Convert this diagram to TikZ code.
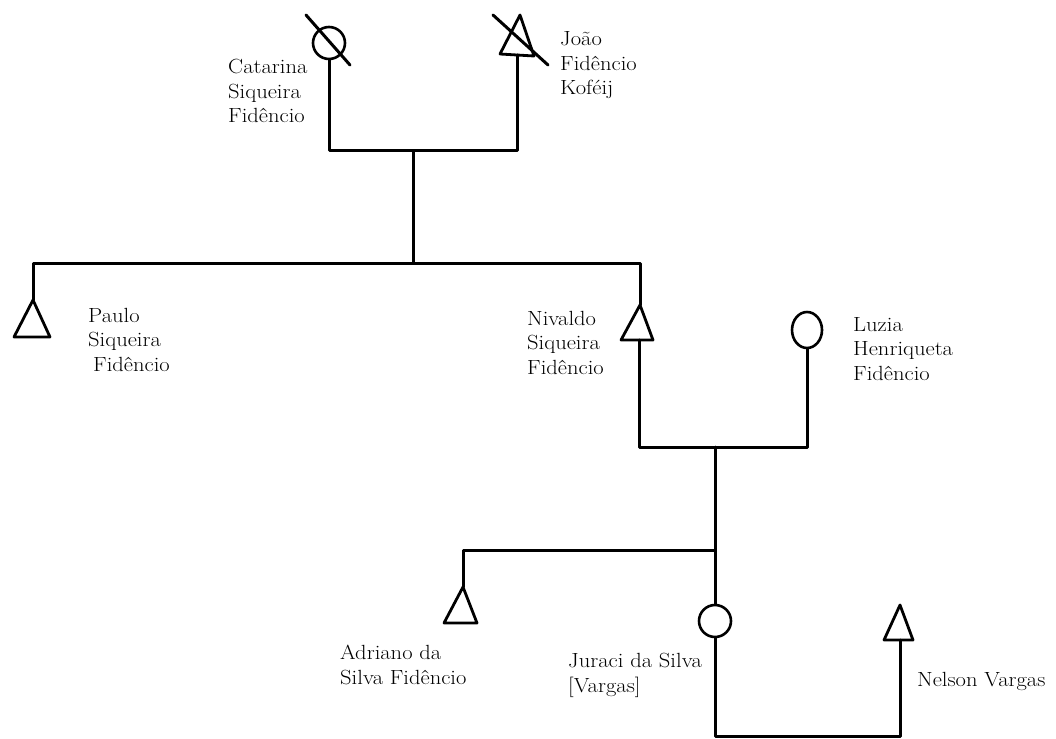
\documentclass[tikz,border=0pt]{standalone}
\usepackage{fontspec}
\setmainfont{Latin Modern Roman}[FakeStretch=1.1]
\usetikzlibrary{shapes.geometric}
\begin{document}
\begin{tikzpicture}[x=1pt,y=-1pt,
  ln/.style={line width=3pt,line cap=round,line join=round},
  fem/.style={circle,draw,line width=2.6pt,inner sep=0pt,minimum size=32pt},
  femov/.style={ellipse,draw,line width=2.6pt,inner sep=0pt,minimum width=30pt,minimum height=36pt},
  tri/.style={draw,line width=2.8pt,line join=round},
  lbl/.style={anchor=base west,align=left,inner sep=0pt,font=\fontsize{20.5}{24.5}\selectfont}]
\useasboundingbox (0,0) rectangle (1056,738);

% --- generation 1
\node[fem] (catarina) at (329,43) {};
\draw[ln] (306,15) -- (350,65);
\coordinate (joaoT) at (520,15);
\coordinate (joaoB) at (517,55);
\draw[tri] (joaoT) -- (534,56) -- (500,54) -- cycle;
\draw[ln] (493,15) -- (548,65);
\coordinate (m1) at (413,151);
\draw[ln] (catarina.south) |- (m1) -| (joaoB);
\coordinate (s1) at (413,263);
\draw[ln] (m1) -- (s1);

% --- generation 2
\coordinate (pauloT) at (33,300);
\coordinate (nivT) at (640,305);
\coordinate (nivB) at (639,340);
\draw[ln] (pauloT) |- (s1) -| (nivT);
\draw[tri] (pauloT) -- (50,337) -- (14,337) -- cycle;
\draw[tri] (nivT) -- (653,340) -- (621,340) -- cycle;
\node[femov] (luzia) at (807,330) {};
\coordinate (m2) at (715,447);
\draw[ln] (nivB) |- (m2) -| (luzia.south);

% --- generation 3
\coordinate (s2) at (715,550);
\draw[ln] (m2) -- (s2);
\coordinate (adrT) at (463,587);
\draw[ln] (s2) -| (adrT);
\draw[tri] (adrT) -- (477,623) -- (444,623) -- cycle;
\node[fem] (juraci) at (715,621) {};
\draw[ln] (s2) -- (juraci.north);
\coordinate (nelT) at (900,605);
\coordinate (nelB) at (900,640);
\draw[tri] (nelT) -- (913,640) -- (884,640) -- cycle;
\coordinate (m3) at (800,736);
\draw[ln] (juraci.south) |- (m3) -| (nelB);

% --- labels (anchor = baseline of the last line)
\node[lbl] (lcat) at (228,123) {Catarina\\Siqueira\\Fidêncio};
\node[lbl] (ljoao) at (560,95) {João\\Fidêncio\\Koféij};
\node[lbl] (lpaulo) at (88,371) {Paulo\\Siqueira\\\hspace{5pt}Fidêncio};
\node[lbl] (lniv) at (527,374) {Nivaldo\\Siqueira\\Fidêncio};
\node[lbl] (lluzia) at (853,380) {Luzia\\Henriqueta\\Fidêncio};
\node[lbl] (ladr) at (340,684) {Adriano da\\Silva Fidêncio};
\node[lbl] (ljur) at (568,692) {Juraci da Silva\\{[Vargas]}};
\node[lbl] (lnel) at (917,686) {Nelson Vargas};
\end{tikzpicture}
\end{document}
